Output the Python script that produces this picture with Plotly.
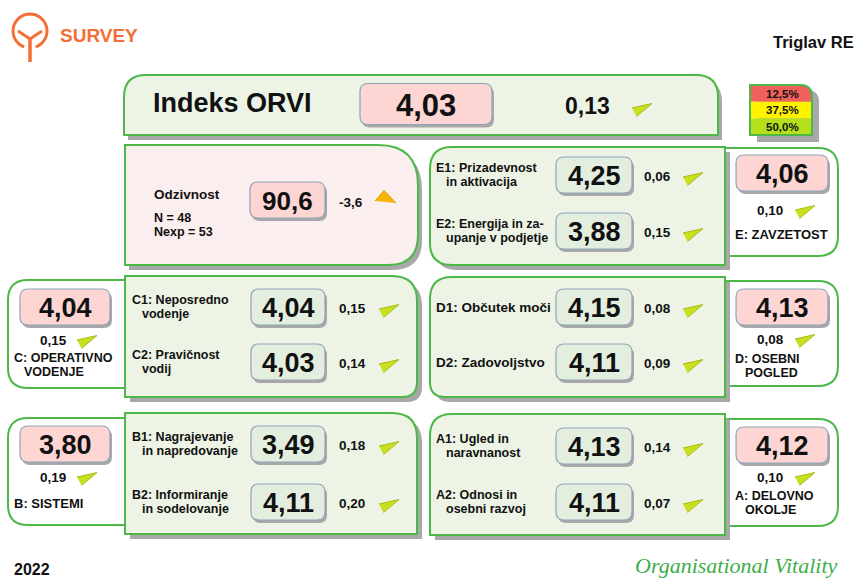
"""
ORVI survey dashboard card (Triglav RE) rebuilt with plotly shapes and annotations.
"""

import math
import plotly.graph_objects as go

# -----------------------------
# DATA
# -----------------------------
company = "Triglav RE"
year = "2022"

orvi_value = 4.03
orvi_delta = 0.13

dist_labels = ["12,5%", "37,5%", "50,0%"]

response_rate = 90.6
response_delta = -3.6
n_resp = 48
n_exp = 53

dim_codes = ["E", "C", "D", "B", "A"]
dim_names = [["E: ZAVZETOST"], ["C: OPERATIVNO", "VODENJE"], ["D: OSEBNI", "POGLED"],
             ["B: SISTEMI"], ["A: DELOVNO", "OKOLJE"]]
dim_values = [4.06, 4.04, 4.13, 3.80, 4.12]
dim_deltas = [0.10, 0.15, 0.08, 0.19, 0.10]

item_names = [["E1: Prizadevnost", "in aktivacija"], ["E2: Energija in za-", "upanje v podjetje"],
              ["C1: Neposredno", "vodenje"], ["C2: Pravičnost", "vodij"],
              ["D1: Občutek moči"], ["D2: Zadovoljstvo"],
              ["B1: Nagrajevanje", "in napredovanje"], ["B2: Informiranje", "in sodelovanje"],
              ["A1: Ugled in", "naravnanost"], ["A2: Odnosi in", "osebni razvoj"]]
item_values = [4.25, 3.88, 4.04, 4.03, 4.15, 4.11, 3.49, 4.11, 4.13, 4.11]
item_deltas = [0.06, 0.15, 0.15, 0.14, 0.08, 0.09, 0.18, 0.20, 0.14, 0.07]

# -----------------------------
# STYLE / LAYOUT CONSTANTS
# -----------------------------
W, H = 858, 582
GREEN = "#4DB848"
DOT_GREEN = "#EDF4E6"
DOT_PINK = "#FBEEEE"
PINK = "#FDD6D4"
ITEM_FILL = "#E3EEDF"
VAL_LINE = "#8FA3BA"
SHADOW = "#A8A8A8"
ORANGE = "#F36F36"
FONT = "Liberation Sans"
SMALL = 13.5   # single-line small text
LBL = 12.5     # two-line labels
GAP = 14.2     # line spacing of two-line labels

# panel geometry per dimension: side, inner box, inner radii, outer box, outer radii,
# dim value y, delta y, name y, item row ys
panels = {
    "E": dict(side="R", inner=(430, 147, 725, 265), ir=(22, 0, 0, 22),
              outer=(725, 148, 838, 256), orr=(0, 20, 20, 0), vy=173, dy=210, ny=234, rows=(175, 231)),
    "C": dict(side="L", inner=(125, 276, 417, 397), ir=(0, 25, 15, 0),
              outer=(8, 280, 125, 388), orr=(20, 0, 0, 20), vy=307, dy=340, ny=358, rows=(307, 362)),
    "D": dict(side="R", inner=(430, 277, 725, 397), ir=(22, 0, 0, 15),
              outer=(725, 281, 838, 386), orr=(0, 20, 20, 0), vy=307, dy=339, ny=359, rows=(307, 362)),
    "B": dict(side="L", inner=(125, 413, 417, 534), ir=(0, 25, 0, 0),
              outer=(8, 418, 125, 525), orr=(20, 0, 0, 20), vy=444, dy=477, ny=503, rows=(444, 502)),
    "A": dict(side="R", inner=(430, 414, 725, 535), ir=(22, 0, 0, 0),
              outer=(725, 419, 838, 526), orr=(0, 20, 20, 0), vy=445, dy=477, ny=496, rows=(446, 502)),
}
side_x = {
    "L": dict(dim=(20, 110), dtx=53, dtri=86, name=12, lab=130, lab2=140, box=(251, 325), itx=352, itri=388),
    "R": dict(dim=(736, 828), dtx=770, dtri=804, name=733, lab=434, lab2=444, box=(556, 632), itx=657, itri=692),
}

shapes = []
annotations = []
tri_up = ([], [])
tri_down = ([], [])


def fmt(v, d=2):
    return f"{v:.{d}f}".replace(".", ",")


def rpath(x0, y0, x1, y1, r):
    tl, tr, br, bl = r
    return (f"M {x0 + tl},{y0} L {x1 - tr},{y0} Q {x1},{y0} {x1},{y0 + tr} "
            f"L {x1},{y1 - br} Q {x1},{y1} {x1 - br},{y1} L {x0 + bl},{y1} "
            f"Q {x0},{y1} {x0},{y1 - bl} L {x0},{y0 + tl} Q {x0},{y0} {x0 + tl},{y0} Z")


def box(x0, y0, x1, y1, r, fill, line=GREEN, lw=2, shadow=None):
    if shadow:
        sx, sy = shadow
        shapes.append(dict(type="path", path=rpath(x0 + sx, y0 + sy, x1 + sx, y1 + sy, r),
                           fillcolor=SHADOW, line=dict(width=0), layer="below"))
    shapes.append(dict(type="path", path=rpath(x0, y0, x1, y1, r), fillcolor=fill,
                       line=dict(color=line, width=lw), layer="below"))


def txt(x, y, s, size, anchor="center", color="#111111", bold=True, family=FONT, italic=False):
    annotations.append(dict(x=x, y=y, xref="x", yref="y", text=s, showarrow=False,
                            xanchor=anchor, yanchor="middle",
                            font=dict(size=size, color=color, family=family,
                                      weight="bold" if bold else "normal",
                                      style="italic" if italic else "normal")))


def value_box(x0, x1, cy, v, fill, size=27, h=36, d=2):
    box(x0, cy - h / 2, x1, cy + h / 2, (8, 8, 8, 8), fill, line=VAL_LINE, lw=1.2, shadow=(2, 3))
    txt((x0 + x1) / 2, cy + 1, fmt(v, d), size)


def trend(cx, cy, delta):
    if delta < 0:
        pts = [(-10, 3), (-1, -7.5), (11, 5)]
        tx, ty = tri_up
    else:
        pts = [(-9, -1), (11, -5.5), (-4.5, 7.5)]
        tx, ty = tri_down
    for px, py in pts:
        tx.append(cx + px)
        ty.append(cy + py)
    tx.append(None)
    ty.append(None)


# -----------------------------
# HEADER
# -----------------------------
arc = [(30 + 17 * math.cos(math.radians(a)), 31 + 17 * math.sin(math.radians(a)))
       for a in range(110, 431, 10)]
shapes.append(dict(type="path", path="M " + " L ".join(f"{x:.1f},{y:.1f}" for x, y in arc),
                   line=dict(color=ORANGE, width=3)))
shapes.append(dict(type="path", path="M 30,38 L 30,62", line=dict(color=ORANGE, width=3.5)))
shapes.append(dict(type="path", path="M 18,31 L 30,39 L 42,31", line=dict(color=ORANGE, width=3)))
txt(58, 35, "SURVEY", 19, anchor="left", color=ORANGE)
txt(856, 42, company, 16.5, anchor="right")

# legend of distribution
leg_colors = ["#F0615B", "#FFF200", "#B6E01C"]
shapes.append(dict(type="path", path=rpath(757, 90, 819, 142, (0, 12, 0, 0)), fillcolor=SHADOW,
                   line=dict(width=0), layer="below"))
for i, lab in enumerate(dist_labels):
    y0 = 85 + i * 16.7
    r = (0, 12, 0, 0) if i == 0 else (0, 0, 0, 0)
    shapes.append(dict(type="path", path=rpath(750, y0, 812, y0 + 16.7, r), fillcolor=leg_colors[i],
                       line=dict(width=0), layer="below"))
    txt(782, y0 + 8.6, lab, 11.5)
shapes.append(dict(type="path", path=rpath(750, 85, 812, 135, (0, 12, 0, 0)),
                   line=dict(color=GREEN, width=2)))

# Indeks ORVI box
box(124, 75, 718, 135, (22, 22, 0, 0), DOT_GREEN, shadow=(4, 5))
txt(151, 103, "Indeks ORVI", 27, anchor="left")
value_box(360, 492, 104, orvi_value, PINK, size=31, h=41)
txt(587, 106, fmt(orvi_delta), 23)
trend(641, 109, orvi_delta)

# Odzivnost box
box(125, 145, 418, 265, (0, 40, 30, 0), DOT_PINK, shadow=(4, 5))
txt(152, 194, "Odzivnost", SMALL, anchor="left")
txt(152, 218, f"N = {n_resp}", LBL, anchor="left")
txt(152, 218 + GAP, f"Nexp = {n_exp}", LBL, anchor="left")
value_box(250, 325, 200, response_rate, PINK, size=26, d=1)
txt(351, 202, fmt(response_delta, 1), SMALL)
trend(385, 198, response_delta)

# -----------------------------
# DIMENSION PANELS
# -----------------------------
for k, code in enumerate(dim_codes):
    p = panels[code]
    s = side_x[p["side"]]
    box(*p["outer"], p["orr"], "white")
    box(*p["inner"], p["ir"], DOT_GREEN, shadow=(5, 5))

    value_box(*s["dim"], p["vy"], dim_values[k], PINK)
    txt(s["dtx"], p["dy"], fmt(dim_deltas[k]), SMALL)
    trend(s["dtri"], p["dy"] + 1, dim_deltas[k])
    for j, line in enumerate(dim_names[k]):
        size = 13 if len(dim_names[k]) == 1 else LBL
        txt(s["name"] + (10 if j else 0), p["ny"] + GAP * j, line, size, anchor="left")

    for j, row_y in enumerate(p["rows"]):
        idx = 2 * k + j
        lines = item_names[idx]
        if len(lines) == 1:
            txt(s["lab"], row_y, lines[0], SMALL, anchor="left")
        else:
            txt(s["lab"], row_y - GAP / 2, lines[0], LBL, anchor="left")
            txt(s["lab2"], row_y + GAP / 2, lines[1], LBL, anchor="left")
        value_box(*s["box"], row_y, item_values[idx], ITEM_FILL)
        txt(s["itx"], row_y + 1, fmt(item_deltas[idx]), SMALL)
        trend(s["itri"], row_y + 3, item_deltas[idx])

# -----------------------------
# FOOTER
# -----------------------------
txt(12, 569, year, 16, anchor="left")
txt(736, 565, "Organisational Vitality", 22, color="#3DAE49", bold=False,
    family="Liberation Serif", italic=True)

fig = go.Figure()
fig.add_trace(go.Scatter(x=tri_down[0], y=tri_down[1], mode="lines", fill="toself",
                         fillcolor="#CADF1E", line=dict(color="#A6BC16", width=1), hoverinfo="skip"))
fig.add_trace(go.Scatter(x=tri_up[0], y=tri_up[1], mode="lines", fill="toself",
                         fillcolor="#F7B400", line=dict(color="#E39A00", width=1), hoverinfo="skip"))

fig.update_layout(
    width=W, height=H,
    margin=dict(l=0, r=0, t=0, b=0),
    paper_bgcolor="white", plot_bgcolor="white",
    showlegend=False,
    xaxis=dict(range=[0, W], visible=False, fixedrange=True),
    yaxis=dict(range=[H, 0], visible=False, fixedrange=True),
    shapes=shapes,
    annotations=annotations,
)

# body margin off so the 858x582 figure sits exactly in the window
fig.write_html("out.html", config={"displayModeBar": False},
               post_script="document.body.style.margin='0px';")
